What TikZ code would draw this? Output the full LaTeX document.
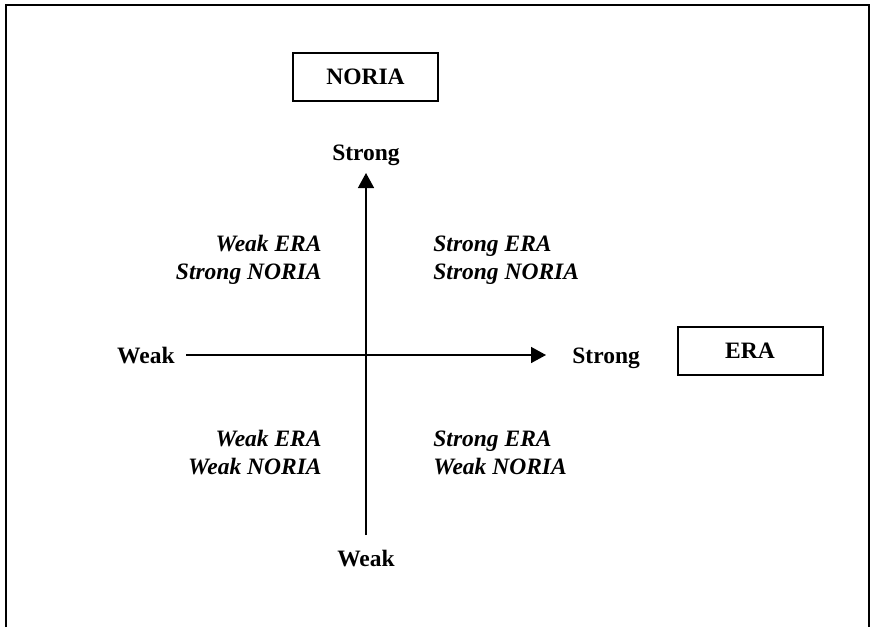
\documentclass[tikz,border=0pt]{standalone}
\usepackage{fontspec}
\setmainfont{Liberation Serif}
\usetikzlibrary{arrows.meta}
\begin{document}
\begin{tikzpicture}[x=0.5pt,y=-0.5pt,
  font=\fontsize{11.75pt}{14pt}\selectfont\bfseries,
  boxnode/.style={draw,line width=1pt,minimum width=72.5pt,minimum height=24pt,inner sep=0pt},
  axis/.style={line width=0.75pt},
  arr/.style={axis,-{Triangle[length=7.5pt,width=8pt]}},
  quad/.style={font=\fontsize{11.75pt}{14pt}\selectfont\bfseries\itshape,inner sep=0pt},
  lab/.style={inner sep=0pt}]
\useasboundingbox (0,0) rectangle (871,627);
\draw[line width=1pt] (6,627) -- (6,5) -- (869,5) -- (869,627);

\node[boxnode] (noria) at (365.5,77) {NORIA};
\node[boxnode] (era) at (750,351) {ERA};

\coordinate (hL) at (186,355);
\coordinate (hR) at (546,355);
\coordinate (vB) at (366,535);
\coordinate (vT) at (366,173);
\draw[arr] (hL) -- (hR);
\draw[arr] (vB) -- (vT);

\node[lab,anchor=base] (top) at (366,160) {Strong};
\node[lab,anchor=base] (bot) at (366,566) {Weak};
\node[lab,anchor=base east] (left) at (175,363) {Weak};
\node[lab,anchor=base west] (right) at (572,363) {Strong};

\node[quad,anchor=base east] (q1a) at (322,251) {Weak ERA};
\node[quad,anchor=base east] (q1b) at (322,279) {Strong NORIA};
\node[quad,anchor=base west] (q2a) at (433,251) {Strong ERA};
\node[quad,anchor=base west] (q2b) at (433,279) {Strong NORIA};
\node[quad,anchor=base east] (q3a) at (322,446) {Weak ERA};
\node[quad,anchor=base east] (q3b) at (322,474) {Weak NORIA};
\node[quad,anchor=base west] (q4a) at (433,446) {Strong ERA};
\node[quad,anchor=base west] (q4b) at (433,474) {Weak NORIA};
\end{tikzpicture}
\end{document}
